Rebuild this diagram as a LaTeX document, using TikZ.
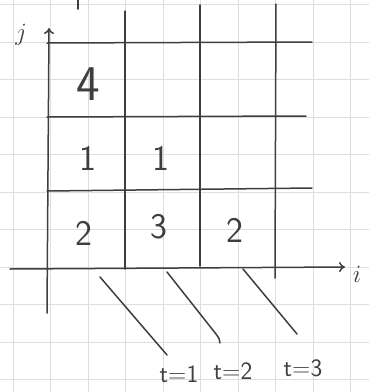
\documentclass[tikz,border=0pt]{standalone}
\usepackage{fontspec}
\usetikzlibrary{arrows.meta}
\definecolor{pencil}{RGB}{62,62,62}
\definecolor{paperline}{RGB}{222,222,222}
\begin{document}
\begin{tikzpicture}[x=1pt,y=1pt,yscale=-1,xscale=1,
	pen/.style={draw=pencil,line width=1.5,line cap=round},
	gridline/.style={draw=paperline,line width=0.6},
	cellnum/.style={inner sep=0.75pt,text=pencil,font=\sffamily\fontsize{36}{36}\selectfont},
	tlabel/.style={inner sep=0.75pt,text=pencil,font=\sffamily\fontsize{25}{25}\selectfont},
	axlabel/.style={inner sep=0.75pt,text=pencil,font=\fontsize{24}{24}\selectfont}]
	\useasboundingbox (0,0) rectangle (369,392);
	
	%Squared paper
	\foreach \gx in {13,50.5,...,352} \draw[gridline] (\gx,0) -- (\gx,392);
	\foreach \gy in {4.5,42,...,385} \draw[gridline] (0,\gy) -- (369,\gy);
	
	%Axes
	\draw[pen,-{To[length=6pt,width=10pt]}] (47,313) -- (49,28);
	\draw[pen,-{To[length=6pt,width=10pt]}] (10,269) -- (345,267);
	% Text Node
	\node[axlabel] (jlab) at (21,35) {$j$};
	% Text Node
	\node[axlabel] (ilab) at (357,274) {$i$};
	
	%Straight Lines: rows
	\draw[pen] (47,43) -- (312,42);
	\draw[pen] (47,117) -- (306,116);
	\draw[pen] (47,191) -- (312,188);
	%Straight Lines: columns
	\draw[pen] (125,11) -- (125,269);
	\draw[pen] (200,5) -- (200,266);
	\draw[pen] (276,4) -- (275,278);
	\draw[pen] (78,0) -- (78,9);
	
	%Diagonals
	\draw[pen] (100,277) -- (167,355);
	\draw[pen] (167,272) -- (216,334) .. controls (219,338) and (220,340) .. (220,343);
	\draw[pen] (243,269) -- (297,334);
	
	% Text Node
	\node[cellnum,font=\sffamily\fontsize{50}{50}\selectfont] (c13) at (88,84) {4};
	\node[cellnum] (c12) at (88,158) {1};
	\node[cellnum] (c22) at (161,158) {1};
	\node[cellnum] (c11) at (84,233) {2};
	\node[cellnum] (c21) at (159,227) {3};
	\node[cellnum] (c31) at (235,230) {2};
	
	% Text Node
	\node[tlabel] (t1) at (179,374) {t=1};
	\node[tlabel] (t2) at (233,371) {t=2};
	\node[tlabel] (t3) at (303,368) {t=3};
\end{tikzpicture}
\end{document}
